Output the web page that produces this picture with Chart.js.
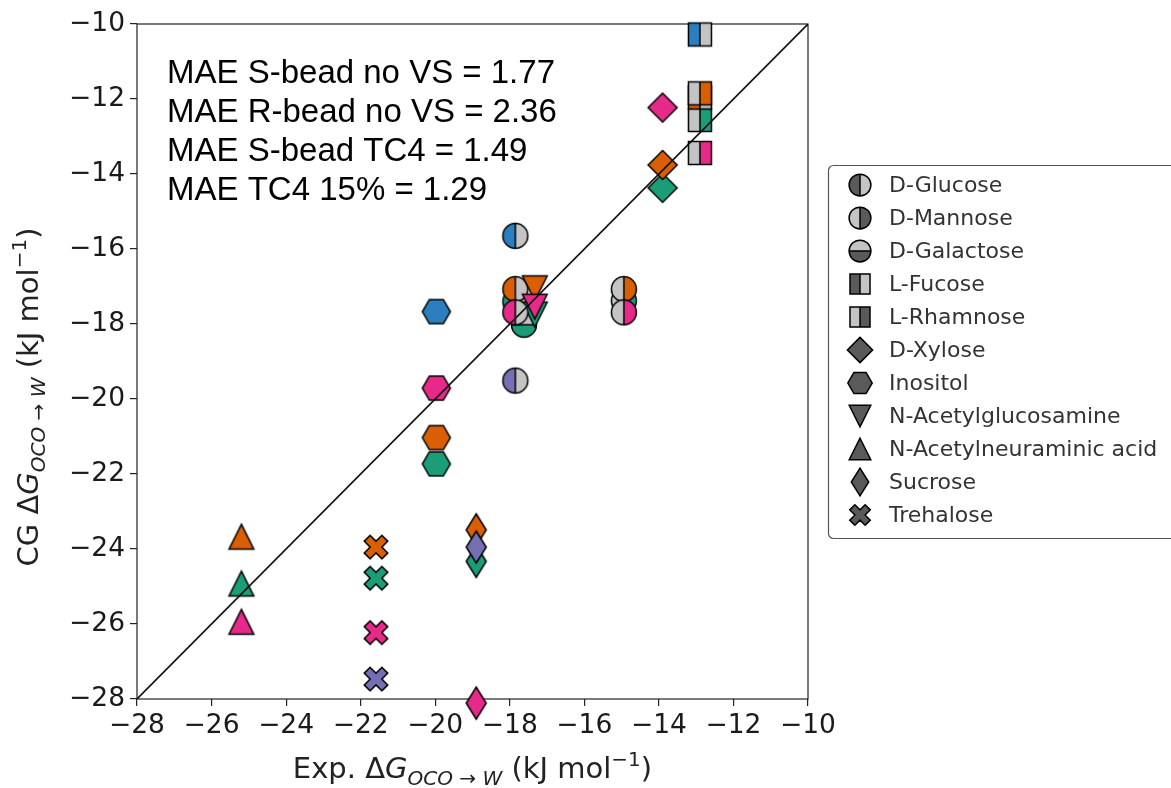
<!DOCTYPE html>
<html>
<head>
<meta charset="utf-8">
<script src="https://cdn.jsdelivr.net/npm/chart.js@4.4.1/dist/chart.umd.min.js"></script>
<style>
  html, body { margin: 0; padding: 0; background: #fff; }
  #wrap { width: 1171px; height: 788px; }
</style>
</head>
<body>
<div id="wrap"><canvas id="myChart" width="1171" height="788"></canvas></div>
<script>
// one legend entry / marker shape per molecule
const molecules = ['D-Glucose', 'D-Mannose', 'D-Galactose', 'L-Fucose', 'L-Rhamnose', 'D-Xylose',
  'Inositol', 'N-Acetylglucosamine', 'N-Acetylneuraminic acid', 'Sucrose', 'Trehalose'];
const markerShapes = ['circleLeft', 'circleRight', 'circleBottom', 'squareLeft', 'squareRight', 'diamond',
  'hexagon', 'triDown', 'triUp', 'thinDiamond', 'cross'];

// experimental dG (x axis)
const expValues = [-17.85, -14.94, -17.62, -12.9, -12.9, -13.9, -19.97, -17.33, -25.2, -18.9, -21.59];

// CG dG (y axis) per colour, null = no point
const cgBlue   = [-15.65, null, null, -10.28, null, null, -17.67, null, null, null, null];
const cgGreen  = [-17.40, -17.38, -18.02, null, -12.56, -14.37, -21.73, -17.75, -24.92, -24.33, -24.78];
const cgOrange = [-17.07, -17.07, null, -11.96, -11.85, -13.76, -21.03, -17.05, -23.67, -23.49, -23.95];
const cgPink   = [-17.69, -17.69, null, null, -13.44, -12.23, -19.71, -17.54, -25.94, -28.11, -26.23];
const cgPurple = [-19.51, null, null, null, null, null, null, null, null, -23.95, -27.47];

const maeLines = ['MAE S-bead no VS = 1.77', 'MAE R-bead no VS = 2.36', 'MAE S-bead TC4 = 1.49', 'MAE TC4 15% = 1.29'];

const tickValues = [-28, -26, -24, -22, -20, -18, -16, -14, -12, -10];
const tickLabels = ['\u221228', '\u221226', '\u221224', '\u221222', '\u221220', '\u221218', '\u221216', '\u221214', '\u221212', '\u221210'];

const ALT = '#c4c4c4';
const EDGE = '#000';

// draws a matplotlib-like marker into a small canvas (used as pointStyle)
function markerImage(shape, fill, alt, s) {
  const n = 2 * Math.round(20 * s);
  const c = document.createElement('canvas');
  c.width = n; c.height = n;
  const g = c.getContext('2d');
  g.translate(n / 2, n / 2);
  g.lineWidth = 1.5;
  g.strokeStyle = EDGE;
  g.lineJoin = 'miter';

  const poly = (pts) => {
    g.beginPath();
    pts.forEach((p, i) => i ? g.lineTo(p[0], p[1]) : g.moveTo(p[0], p[1]));
    g.closePath();
  };
  const full = (pts) => { poly(pts); g.fillStyle = fill; g.fill(); g.stroke(); };

  if (shape.startsWith('circle')) {
    const r = 12.5 * s;
    let c1, c2, vertical = true;
    if (shape === 'circleLeft') { c1 = fill; c2 = alt; }
    else if (shape === 'circleRight') { c1 = alt; c2 = fill; }
    else { vertical = false; c1 = alt; c2 = fill; }
    if (vertical) {
      g.beginPath(); g.arc(0, 0, r, Math.PI / 2, Math.PI * 1.5); g.closePath(); g.fillStyle = c1; g.fill();
      g.beginPath(); g.arc(0, 0, r, -Math.PI / 2, Math.PI / 2); g.closePath(); g.fillStyle = c2; g.fill();
      g.beginPath(); g.moveTo(0, -r); g.lineTo(0, r); g.stroke();
    } else {
      g.beginPath(); g.arc(0, 0, r, Math.PI, Math.PI * 2); g.closePath(); g.fillStyle = c1; g.fill();
      g.beginPath(); g.arc(0, 0, r, 0, Math.PI); g.closePath(); g.fillStyle = c2; g.fill();
      g.beginPath(); g.moveTo(-r, 0); g.lineTo(r, 0); g.stroke();
    }
    g.beginPath(); g.arc(0, 0, r, 0, Math.PI * 2); g.stroke();
  } else if (shape.startsWith('square')) {
    const h = 11.5 * s;
    const left = shape === 'squareLeft' ? fill : alt;
    const right = shape === 'squareLeft' ? alt : fill;
    g.fillStyle = left; g.fillRect(-h, -h, h, 2 * h);
    g.fillStyle = right; g.fillRect(0, -h, h, 2 * h);
    g.beginPath(); g.moveTo(0, -h); g.lineTo(0, h); g.stroke();
    g.strokeRect(-h, -h, 2 * h, 2 * h);
  } else if (shape === 'diamond') {
    const h = 14.5 * s;
    full([[0, -h], [h, 0], [0, h], [-h, 0]]);
  } else if (shape === 'thinDiamond') {
    const hy = 16 * s, hx = 10 * s;
    full([[0, -hy], [hx, 0], [0, hy], [-hx, 0]]);
  } else if (shape === 'hexagon') {
    const R = 14 * s, pts = [];
    for (let k = 0; k < 6; k++) pts.push([R * Math.cos(k * Math.PI / 3), R * Math.sin(k * Math.PI / 3)]);
    full(pts);
  } else if (shape === 'triDown') {
    const h = 12.4 * s;
    full([[-h, -h], [h, -h], [0, h]]);
  } else if (shape === 'triUp') {
    const h = 12.4 * s;
    full([[0, -h], [h, h], [-h, h]]);
  } else if (shape === 'cross') {
    const u = 25 * s / 6;
    const base = [[-1, -3], [1, -3], [1, -1], [3, -1], [3, 1], [1, 1], [1, 3], [-1, 3], [-1, 1], [-3, 1], [-3, -1], [-1, -1]];
    const cs = Math.SQRT1_2;
    full(base.map(p => [(p[0] - p[1]) * cs * u, (p[0] + p[1]) * cs * u]));
  }
  return c;
}

// colour groups, bottom to top
const series = [
  { values: cgBlue, color: '#2c7fbf' },
  { values: cgGreen, color: '#1b9e77' },
  { values: cgOrange, color: '#d95f02' },
  { values: cgPink, color: '#e7298a' },
  { values: cgPurple, color: '#7570b3' }
];

const datasets = series.map((sr, k) => {
  const pts = [], styles = [];
  sr.values.forEach((v, i) => {
    if (v === null) return;
    pts.push({ x: expValues[i], y: v });
    styles.push(markerImage(markerShapes[i], sr.color, ALT, 1));
  });
  return {
    type: 'scatter',
    data: pts,
    pointStyle: styles,
    pointRadius: 12,
    clip: false,
    order: series.length - k
  };
});

// identity line y = x across the axis range
const lo = tickValues[0], hi = tickValues[tickValues.length - 1];
datasets.push({
  type: 'line',
  data: [{ x: lo, y: lo }, { x: hi, y: hi }],
  borderColor: '#111',
  borderWidth: 1.6,
  pointRadius: 0,
  order: 0
});

function drawRich(ctx, parts, cx, by) {
  let w = 0;
  parts.forEach(p => { ctx.font = p.f; w += ctx.measureText(p.t).width; });
  let x = cx - w / 2;
  ctx.textAlign = 'left';
  ctx.textBaseline = 'alphabetic';
  parts.forEach(p => {
    ctx.font = p.f;
    ctx.fillText(p.t, x, by + (p.dy || 0));
    x += ctx.measureText(p.t).width;
  });
}

function titleParts(prefix) {
  const N = '29px "DejaVu Sans"', I = 'italic 29px "DejaVu Sans"';
  const sN = '20px "DejaVu Sans"', sI = 'italic 20px "DejaVu Sans"';
  return [
    { t: prefix + '\u0394', f: N },
    { t: 'G', f: I },
    { t: 'OCO', f: sI, dy: 7 },
    { t: ' \u2192 ', f: sN, dy: 7 },
    { t: 'W', f: sI, dy: 7 },
    { t: ' (kJ mol', f: N },
    { t: '\u22121', f: sN, dy: -12 },
    { t: ')', f: N }
  ];
}

const extras = {
  id: 'extras',
  beforeDatasetsDraw(chart) {
    const { ctx, chartArea: a } = chart;
    ctx.save();
    ctx.strokeStyle = '#222';
    ctx.lineWidth = 1.2;
    ctx.strokeRect(a.left, a.top, a.right - a.left, a.bottom - a.top);
    ctx.restore();
  },
  afterDraw(chart) {
    const { ctx, chartArea: a } = chart;
    ctx.save();
    // MAE annotation
    ctx.fillStyle = '#000';
    ctx.font = '33px "Liberation Sans", Arial, sans-serif';
    ctx.textAlign = 'left';
    ctx.textBaseline = 'alphabetic';
    maeLines.forEach((t, i) => ctx.fillText(t, a.left + 30, a.top + 59 + i * 39));

    // axis titles
    ctx.fillStyle = '#222';
    drawRich(ctx, titleParts('Exp. '), (a.left + a.right) / 2, 778);
    ctx.save();
    ctx.translate(38, 397);
    ctx.rotate(-Math.PI / 2);
    drawRich(ctx, titleParts('CG '), 0, 0);
    ctx.restore();

    // legend
    const lx = 828, ly = 165;
    ctx.fillStyle = '#fff';
    ctx.strokeStyle = '#555';
    ctx.lineWidth = 1.2;
    ctx.beginPath();
    ctx.roundRect(lx + 0.5, ly + 0.5, 360, 373, 5);
    ctx.fill();
    ctx.stroke();
    ctx.font = '22px "DejaVu Sans"';
    ctx.fillStyle = '#333';
    ctx.textBaseline = 'middle';
    molecules.forEach((m, i) => {
      const y = 185 + i * 33;
      const img = markerImage(markerShapes[i], '#5a5a5a', ALT, 0.87);
      ctx.drawImage(img, 860 - img.width / 2, y - img.height / 2);
      ctx.fillText(m, 889, y + 1);
    });
    ctx.restore();
  }
};

const axisCommon = {
  type: 'linear',
  min: lo,
  max: hi,
  afterBuildTicks: s => { s.ticks = tickValues.map(v => ({ value: v })); },
  border: { display: false },
  grid: { drawOnChartArea: false, drawTicks: true, tickLength: 7, color: '#222', lineWidth: 1.2 },
  ticks: {
    font: { family: 'DejaVu Sans', size: 26.5 },
    color: '#1a1a1a',
    maxRotation: 0,
    autoSkip: false,
    callback: (v, i) => tickLabels[i]
  }
};

const ctx = document.getElementById('myChart').getContext('2d');
const myChart = new Chart(ctx, {
  type: 'scatter',
  data: { datasets },
  options: {
    responsive: false,
    animation: false,
    events: [],
    layout: { padding: { left: 0, top: 24, right: 363, bottom: 0 } },
    plugins: { legend: { display: false }, tooltip: { enabled: false } },
    scales: {
      x: Object.assign({}, axisCommon, {
        position: 'bottom',
        afterFit: s => { s.height = 89; },
        ticks: Object.assign({}, axisCommon.ticks, { padding: 4 })
      }),
      y: Object.assign({}, axisCommon, {
        position: 'left',
        afterFit: s => { s.width = 137; },
        ticks: Object.assign({}, axisCommon.ticks, { padding: 5 })
      })
    }
  },
  plugins: [extras]
});
</script>
</body>
</html>
